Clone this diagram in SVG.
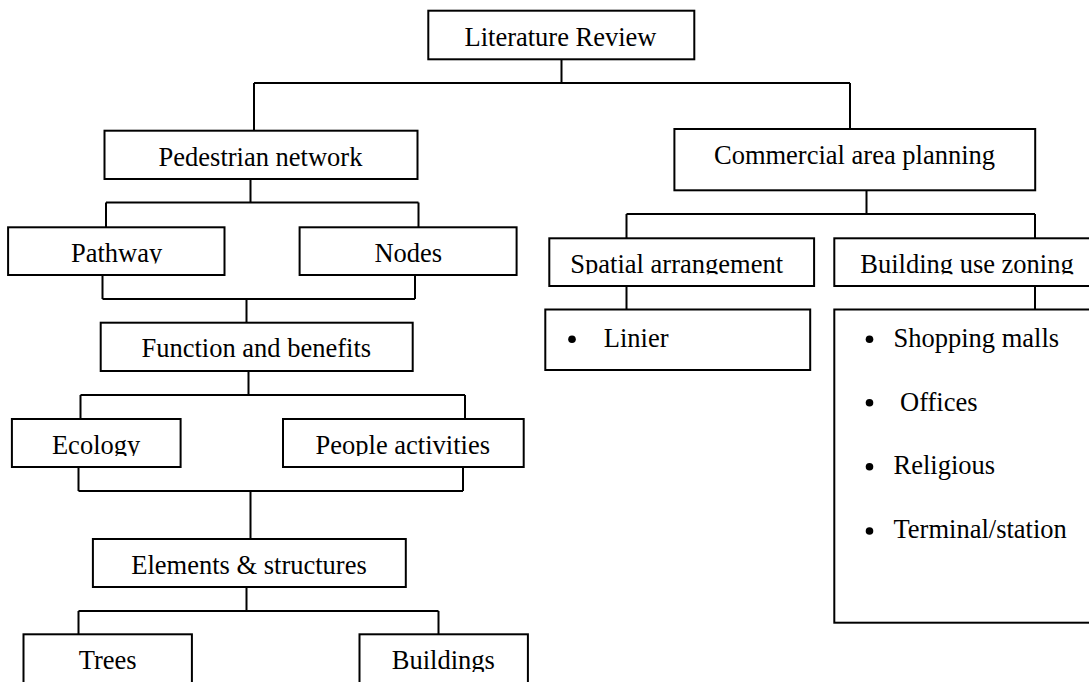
<svg xmlns="http://www.w3.org/2000/svg" width="1089" height="682" viewBox="0 0 1089 682">
<style>
.box{fill:#fff;stroke:#000;stroke-width:2}
.t{font-family:"Liberation Serif","Times New Roman",serif;font-size:26.5px;fill:#000;text-anchor:middle}
.tl{font-family:"Liberation Serif","Times New Roman",serif;font-size:26.5px;fill:#000}
.c{fill:none;stroke:#000;stroke-width:2}
</style>
<defs>
<clipPath id="cpPath"><rect x="0" y="0" width="1089" height="263.5"/></clipPath>
<clipPath id="cpEco"><rect x="0" y="0" width="1089" height="456"/></clipPath>
<clipPath id="cpSpa"><rect x="0" y="0" width="1089" height="274.3"/></clipPath>
<clipPath id="cpBld"><rect x="0" y="0" width="1089" height="672"/></clipPath>
</defs>
<rect width="1089" height="682" fill="#fff"/>
<g id="connectors">
<path class="c" d="M561.5,59 V83 M254,83 H850 M254,83 V131 M850,83 V129"/>
<path class="c" d="M250.5,179 V202.5 M106,202.5 H418.5 M106,202.5 V227 M418.5,202.5 V227"/>
<path class="c" d="M102.5,275 V299 M415,275 V299 M102.5,299 H415 M246.5,299 V323"/>
<path class="c" d="M248.5,371 V395 M80.5,395 H465 M80.5,395 V419 M465,395 V419"/>
<path class="c" d="M78.5,467 V491 M463,467 V491 M78.5,491 H463 M250.5,491 V539"/>
<path class="c" d="M246.5,587 V611 M78.5,611 H438.5 M78.5,611 V634 M438.5,611 V634"/>
<path class="c" d="M866.5,190 V214 M626.5,214 H1035 M626.5,214 V238 M1035,214 V238"/>
<path class="c" d="M626.5,286 V310 M1035,286 V310"/>
</g>
<g id="literature-review">
<rect class="box" x="428.3" y="10.7" width="266" height="48.6"/>
<text class="t" x="560.5" y="45.7">Literature Review</text>
</g>
<g id="pedestrian-network">
<rect class="box" x="104.5" y="130.7" width="313" height="48.3"/>
<text class="t" x="260.5" y="165.7">Pedestrian network</text>
</g>
<g id="commercial-area-planning">
<rect class="box" x="674.4" y="129" width="360.8" height="61.3"/>
<text class="t" x="854.5" y="164">Commercial area planning</text>
</g>
<g id="pathway">
<rect class="box" x="8.1" y="227.3" width="216.4" height="47.7"/>
<text class="t" x="116.6" y="261.7" clip-path="url(#cpPath)">Pathway</text>
</g>
<g id="nodes">
<rect class="box" x="299.6" y="227.3" width="217" height="47.7"/>
<text class="t" x="408.3" y="261.7">Nodes</text>
</g>
<g id="function-and-benefits">
<rect class="box" x="100.7" y="322.7" width="312" height="48.3"/>
<text class="t" x="256.3" y="357.3">Function and benefits</text>
</g>
<g id="ecology">
<rect class="box" x="11.9" y="419" width="168.7" height="48"/>
<text class="t" x="96.1" y="454" clip-path="url(#cpEco)">Ecology</text>
</g>
<g id="people-activities">
<rect class="box" x="283" y="419" width="240.7" height="48"/>
<text class="t" x="402.8" y="454" clip-path="url(#cpEco)">People activities</text>
</g>
<g id="elements-structures">
<rect class="box" x="92.9" y="539" width="312.9" height="48"/>
<text class="t" x="249" y="574.3">Elements &amp; structures</text>
</g>
<g id="trees">
<rect class="box" x="23.5" y="634.3" width="168.4" height="60"/>
<text class="t" x="107.7" y="669.3">Trees</text>
</g>
<g id="buildings">
<rect class="box" x="359.5" y="634.3" width="168.4" height="60"/>
<text class="t" x="443.3" y="669.3" clip-path="url(#cpBld)">Buildings</text>
</g>
<g id="spatial-arrangement">
<rect class="box" x="549.3" y="238.3" width="264.8" height="47.7"/>
<text class="t" x="676.7" y="272.7" clip-path="url(#cpSpa)">Spatial arrangement</text>
</g>
<g id="building-use-zoning">
<rect class="box" x="834.3" y="238.3" width="270" height="47.7"/>
<text class="t" x="967" y="272.7" clip-path="url(#cpSpa)">Building use zoning</text>
</g>
<g id="linier">
<rect class="box" x="545.3" y="309.5" width="264.9" height="60.5"/>
<circle cx="572" cy="339.3" r="3.8"/>
<text class="tl" x="603.8" y="346.7">Linier</text>
</g>
<g id="building-use-list">
<rect class="box" x="834.3" y="309.5" width="270" height="313.2"/>
<circle cx="869.5" cy="339.3" r="3.8"/>
<text class="tl" x="893.5" y="346.7">Shopping malls</text>
<circle cx="869.5" cy="402.7" r="3.8"/>
<text class="tl" x="900" y="410.7">Offices</text>
<circle cx="869.5" cy="466.7" r="3.8"/>
<text class="tl" x="893.5" y="474.3">Religious</text>
<circle cx="869.5" cy="531" r="3.8"/>
<text class="tl" x="893.5" y="538.3">Terminal/station</text>
</g>
</svg>
